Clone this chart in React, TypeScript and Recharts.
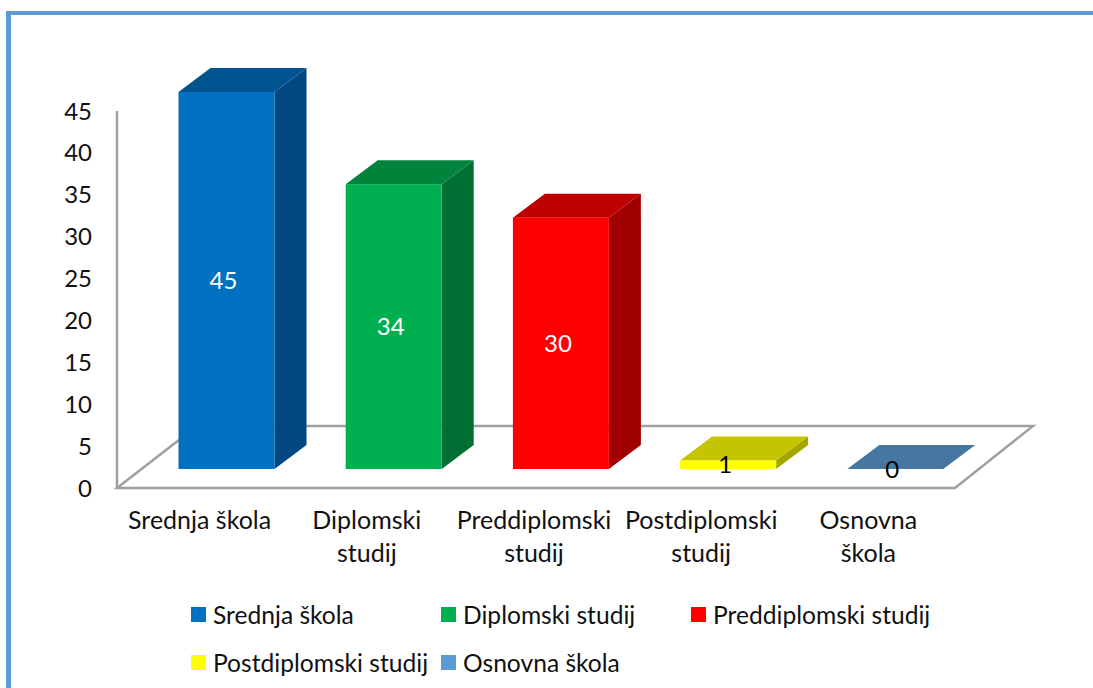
import { BarChart, Bar, XAxis, YAxis, Legend, Cell, LabelList, usePlotArea } from 'recharts';

const categories = ['Srednja škola', 'Diplomski studij', 'Preddiplomski studij', 'Postdiplomski studij', 'Osnovna škola'];
const tickLines = [['Srednja škola'], ['Diplomski', 'studij'], ['Preddiplomski', 'studij'], ['Postdiplomski', 'studij'], ['Osnovna', 'škola']];
const values = [45, 34, 30, 1, 0];
const yTicks = [0, 5, 10, 15, 20, 25, 30, 35, 40, 45];
const frontColors = ['#0070C0', '#00B050', '#FF0000', '#FFFF00', '#4677A0'];
const topColors = ['#005490', '#00843C', '#BF0000', '#C4C400', '#4677A0'];
const sideColors = ['#00487F', '#006F33', '#A00000', '#A5A500', '#4677A0'];
const legendColors = ['#0070C0', '#00B050', '#FF0000', '#FFFF00', '#5B9BD5'];
const labelColors = ['#FFFFFF', '#FFFFFF', '#FFFFFF', '#000000', '#000000'];

const data = categories.map((name, i) => ({ name, value: values[i] }));

const FONT = 'Lato, sans-serif';
const FRAME = '#5B9BD5';
const AXIS = '#A0A0A0';
// the bars stand in the middle of the 3D floor
const SHIFT_X = 25.5;
const SHIFT_Y = -19;
const DEPTH_X = 32;
const DEPTH_Y = -24;

function Floor() {
  const plot = usePlotArea();
  if (!plot) return null;
  const left = plot.x;
  const right = plot.x + plot.width;
  const bottom = plot.y + plot.height;
  return (
    <polygon
      points={`${left},${bottom} ${right + 2},${bottom} ${right + 80},${bottom - 62} ${left + 80},${bottom - 62}`}
      fill="none"
      stroke={AXIS}
      strokeWidth={2.5}
    />
  );
}

function Box3D(props: any) {
  const { x, y, width, height, index } = props;
  const l = x + SHIFT_X;
  const r = l + width;
  const t = y + SHIFT_Y;
  const b = t + height;
  return (
    <g>
      <polygon points={`${r},${t} ${r + DEPTH_X},${t + DEPTH_Y} ${r + DEPTH_X},${b + DEPTH_Y} ${r},${b}`} fill={sideColors[index]} />
      <polygon points={`${l},${t} ${l + DEPTH_X},${t + DEPTH_Y} ${r + DEPTH_X},${t + DEPTH_Y} ${r},${t}`} fill={topColors[index]} />
      <rect x={l} y={t} width={width} height={height} fill={frontColors[index]} />
    </g>
  );
}

function BarLabel(props: any) {
  const { x, y, width, height, index, value } = props;
  return (
    <text
      x={x + width / 2 + SHIFT_X - 3}
      y={y + height / 2 + SHIFT_Y - 1}
      textAnchor="middle"
      dominantBaseline="central"
      fontFamily={FONT}
      fontSize={24}
      fill={labelColors[index]}
    >
      {value}
    </text>
  );
}

function CategoryTick(props: any) {
  const { x, y, index } = props;
  return (
    <text textAnchor="middle" fontFamily={FONT} fontSize={25} fill="#111111">
      {tickLines[index].map((line, i) => (
        <tspan key={line} x={x - 1} y={y + 33 + i * 33}>
          {line}
        </tspan>
      ))}
    </text>
  );
}

function ChartLegend() {
  const rows = [[0, 1, 2], [3, 4]];
  return (
    <div style={{ fontFamily: FONT, fontSize: 24.6, color: '#111111' }}>
      {rows.map((row, r) => (
        <div key={r} style={{ display: 'flex', height: 48 }}>
          {row.map((i) => (
            <div key={i} style={{ width: 250, display: 'flex', alignItems: 'center', whiteSpace: 'nowrap' }}>
              <span style={{ width: 15, height: 15, marginRight: 7, flex: 'none', background: legendColors[i] }} />
              {categories[i]}
            </div>
          ))}
        </div>
      ))}
    </div>
  );
}

export default function App() {
  return (
    <div style={{ position: 'absolute', left: 0, top: 0, width: 1093, height: 688, background: '#FFFFFF', overflow: 'hidden' }}>
      <div style={{ position: 'absolute', left: 6, top: 11, right: 0, bottom: 0, borderTop: `4px solid ${FRAME}`, borderLeft: `5px solid ${FRAME}` }} />
      <div style={{ position: 'absolute', left: 0, top: 0 }}>
        <BarChart width={1093} height={688} data={data} margin={{ top: 111, right: 140, bottom: 100, left: 0 }}>
          <Floor />
          <XAxis dataKey="name" height={100} interval={0} tick={<CategoryTick />} tickLine={false} axisLine={false} />
          <YAxis
            width={117}
            domain={[0, 45]}
            ticks={yTicks}
            interval={0}
            tickLine={false}
            tickSize={0}
            tickMargin={25}
            tick={{ fontFamily: FONT, fontSize: 24, fill: '#111111' }}
            axisLine={{ stroke: AXIS, strokeWidth: 2.5 }}
          />
          <Legend
            content={<ChartLegend />}
            wrapperStyle={{ position: 'absolute', left: 191, top: 590, width: 760, height: 0 }}
          />
          <Bar dataKey="value" barSize={96} shape={<Box3D />} isAnimationActive={false}>
            {data.map((d, i) => (
              <Cell key={d.name} fill={frontColors[i]} />
            ))}
            <LabelList dataKey="value" content={<BarLabel />} />
          </Bar>
        </BarChart>
      </div>
    </div>
  );
}
